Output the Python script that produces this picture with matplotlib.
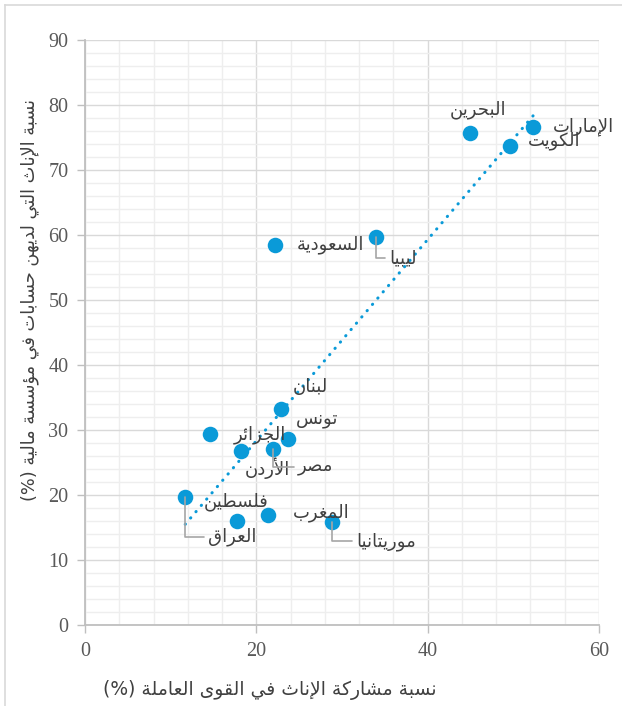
import matplotlib
matplotlib.use("Agg")
import numpy as np
import matplotlib.pyplot as plt
from matplotlib.ticker import MultipleLocator

# Data
countries = ["الإمارات", "البحرين", "الكويت", "السعودية", "ليبيا", "لبنان", "تونس",
             "الجزائر", "الأردن", "مصر", "العراق", "فلسطين", "المغرب", "موريتانيا"]
labor_share = [52.3, 44.9, 49.6, 22.2, 34.0, 22.9, 23.7, 14.6, 18.2, 22.0, 11.7, 17.7, 21.4, 28.8]
account_share = [76.6, 75.7, 73.7, 58.5, 59.7, 33.2, 28.6, 29.4, 26.8, 27.1, 19.7, 16.0, 16.9, 15.8]

x_title = "نسبة مشاركة الإناث في القوى العاملة (%)"
y_title = "نسبة الإناث التي لديهن حسابات في مؤسسة مالية (%)"

# label placement: (dx, dy) in pixels, horizontal alignment, leader line
label_pos = {
    "الإمارات": (20, 0, "left", False),
    "البحرين": (8, 23, "center", False),
    "الكويت": (18, 5, "left", False),
    "السعودية": (22, 0, "left", False),
    "ليبيا": (27, -21, "center", True),
    "لبنان": (29, 22, "center", False),
    "تونس": (29, 20, "center", False),
    "الجزائر": (50, -1, "center", False),
    "الأردن": (26, -17, "center", False),
    "مصر": (42, -18, "center", True),
    "العراق": (47, -40, "center", True),
    "فلسطين": (-1, 19, "center", False),
    "المغرب": (53, 2, "center", False),
    "موريتانيا": (54, -19, "center", True),
}

BLUE = "#0A9AD8"
TEXT = "#404040"

plt.rcParams["font.family"] = ["Liberation Serif", "DejaVu Sans"]

# --- minimal Arabic shaping (matplotlib has no bidi/shaping support) ---
FORMS = {
    "\u0621": ("\uFE80", None, None, None),
    "\u0622": ("\uFE81", "\uFE82", None, None),
    "\u0623": ("\uFE83", "\uFE84", None, None),
    "\u0624": ("\uFE85", "\uFE86", None, None),
    "\u0625": ("\uFE87", "\uFE88", None, None),
    "\u0626": ("\uFE89", "\uFE8A", "\uFE8B", "\uFE8C"),
    "\u0627": ("\uFE8D", "\uFE8E", None, None),
    "\u0628": ("\uFE8F", "\uFE90", "\uFE91", "\uFE92"),
    "\u0629": ("\uFE93", "\uFE94", None, None),
    "\u062A": ("\uFE95", "\uFE96", "\uFE97", "\uFE98"),
    "\u062B": ("\uFE99", "\uFE9A", "\uFE9B", "\uFE9C"),
    "\u062C": ("\uFE9D", "\uFE9E", "\uFE9F", "\uFEA0"),
    "\u062D": ("\uFEA1", "\uFEA2", "\uFEA3", "\uFEA4"),
    "\u062E": ("\uFEA5", "\uFEA6", "\uFEA7", "\uFEA8"),
    "\u062F": ("\uFEA9", "\uFEAA", None, None),
    "\u0630": ("\uFEAB", "\uFEAC", None, None),
    "\u0631": ("\uFEAD", "\uFEAE", None, None),
    "\u0632": ("\uFEAF", "\uFEB0", None, None),
    "\u0633": ("\uFEB1", "\uFEB2", "\uFEB3", "\uFEB4"),
    "\u0634": ("\uFEB5", "\uFEB6", "\uFEB7", "\uFEB8"),
    "\u0635": ("\uFEB9", "\uFEBA", "\uFEBB", "\uFEBC"),
    "\u0636": ("\uFEBD", "\uFEBE", "\uFEBF", "\uFEC0"),
    "\u0637": ("\uFEC1", "\uFEC2", "\uFEC3", "\uFEC4"),
    "\u0638": ("\uFEC5", "\uFEC6", "\uFEC7", "\uFEC8"),
    "\u0639": ("\uFEC9", "\uFECA", "\uFECB", "\uFECC"),
    "\u063A": ("\uFECD", "\uFECE", "\uFECF", "\uFED0"),
    "\u0641": ("\uFED1", "\uFED2", "\uFED3", "\uFED4"),
    "\u0642": ("\uFED5", "\uFED6", "\uFED7", "\uFED8"),
    "\u0643": ("\uFED9", "\uFEDA", "\uFEDB", "\uFEDC"),
    "\u0644": ("\uFEDD", "\uFEDE", "\uFEDF", "\uFEE0"),
    "\u0645": ("\uFEE1", "\uFEE2", "\uFEE3", "\uFEE4"),
    "\u0646": ("\uFEE5", "\uFEE6", "\uFEE7", "\uFEE8"),
    "\u0647": ("\uFEE9", "\uFEEA", "\uFEEB", "\uFEEC"),
    "\u0648": ("\uFEED", "\uFEEE", None, None),
    "\u0649": ("\uFEEF", "\uFEF0", None, None),
    "\u064A": ("\uFEF1", "\uFEF2", "\uFEF3", "\uFEF4"),
}
LAM_ALEF = {"\u0622": ("\uFEF5", "\uFEF6"), "\u0623": ("\uFEF7", "\uFEF8"),
            "\u0625": ("\uFEF9", "\uFEFA"), "\u0627": ("\uFEFB", "\uFEFC")}


def joins_next(c):
    return c in FORMS and FORMS[c][2] is not None


def joins_prev(c):
    return c in FORMS and FORMS[c][1] is not None


def ar(text):
    out = []
    i = 0
    n = len(text)
    while i < n:
        c = text[i]
        prev = text[i - 1] if i > 0 else ""
        if c not in FORMS:
            out.append(c)
            i += 1
            continue
        if c == "\u0644" and i + 1 < n and text[i + 1] in LAM_ALEF:
            iso, fin = LAM_ALEF[text[i + 1]]
            out.append(fin if joins_next(prev) else iso)
            i += 2
            continue
        nxt = text[i + 1] if i + 1 < n else ""
        cp = joins_next(prev) and joins_prev(c)
        cn = joins_next(c) and joins_prev(nxt)
        iso, fin, ini, med = FORMS[c]
        if cp and cn:
            out.append(med)
        elif cp:
            out.append(fin)
        elif cn:
            out.append(ini)
        else:
            out.append(iso)
        i += 1
    vis = "".join(reversed(out))
    return vis.translate(str.maketrans("()", ")("))


fig = plt.figure(figsize=(6.22, 7.06), dpi=100)
ax = fig.add_axes([85 / 622, 1 - 625 / 706, (599 - 85) / 622, (625 - 40) / 706])

ax.set_xlim(0, 60)
ax.set_ylim(0, 90)
ax.xaxis.set_major_locator(MultipleLocator(20))
ax.xaxis.set_minor_locator(MultipleLocator(4))
ax.yaxis.set_major_locator(MultipleLocator(10))
ax.yaxis.set_minor_locator(MultipleLocator(2))
ax.grid(which="minor", color="#EEEEEE", lw=1.0)
ax.grid(which="major", color="#D9D9D9", lw=1.0)
ax.set_axisbelow(True)
for s in ["top", "right"]:
    ax.spines[s].set_visible(False)
for s in ["left", "bottom"]:
    ax.spines[s].set_color("#BFBFBF")
    ax.spines[s].set_linewidth(1.3)
ax.tick_params(which="major", length=6, width=1.0, color="#BFBFBF",
               labelcolor="#595959", labelsize=14.5, pad=6)
ax.tick_params(which="minor", length=0)

# linear trend line over the data range
coef = np.polyfit(labor_share, account_share, 1)
xt = np.array([min(labor_share), max(labor_share)])
ax.plot(xt, np.polyval(coef, xt), color=BLUE, lw=2.2,
        linestyle=(0, (0.1, 2.6)), dash_capstyle="round", zorder=2)

ax.scatter(labor_share, account_share, s=125, color=BLUE, zorder=3, linewidths=0)

for name, xv, yv in zip(countries, labor_share, account_share):
    dx, dy, ha, leader = label_pos[name]
    kw = {}
    if leader:
        kw["arrowprops"] = dict(arrowstyle="-", color="#A6A6A6", lw=1.2,
                                connectionstyle="angle,angleA=0,angleB=90,rad=0",
                                shrinkA=1, shrinkB=0)
    ax.annotate(ar(name), (xv, yv), xytext=(dx, dy), textcoords="offset pixels",
                ha=ha, va="center", fontsize=13, color=TEXT,
                family="DejaVu Sans", zorder=4, **kw)

fig.text(270 / 622, 1 - 690 / 706, ar(x_title), ha="center", va="center",
         fontsize=13.5, color=TEXT, family="DejaVu Sans")
fig.text(30 / 622, 1 - 300 / 706, ar(y_title), ha="center", va="center",
         rotation=90, fontsize=12.8, color=TEXT, family="DejaVu Sans")

# chart area border
fig.add_artist(plt.Line2D([5 / 622, 5 / 622], [0, 1 - 5 / 706], color="#D9D9D9", lw=1.2))
fig.add_artist(plt.Line2D([5 / 622, 1], [1 - 5 / 706, 1 - 5 / 706], color="#D9D9D9", lw=1.2))

fig.savefig("out.png", dpi=100)
